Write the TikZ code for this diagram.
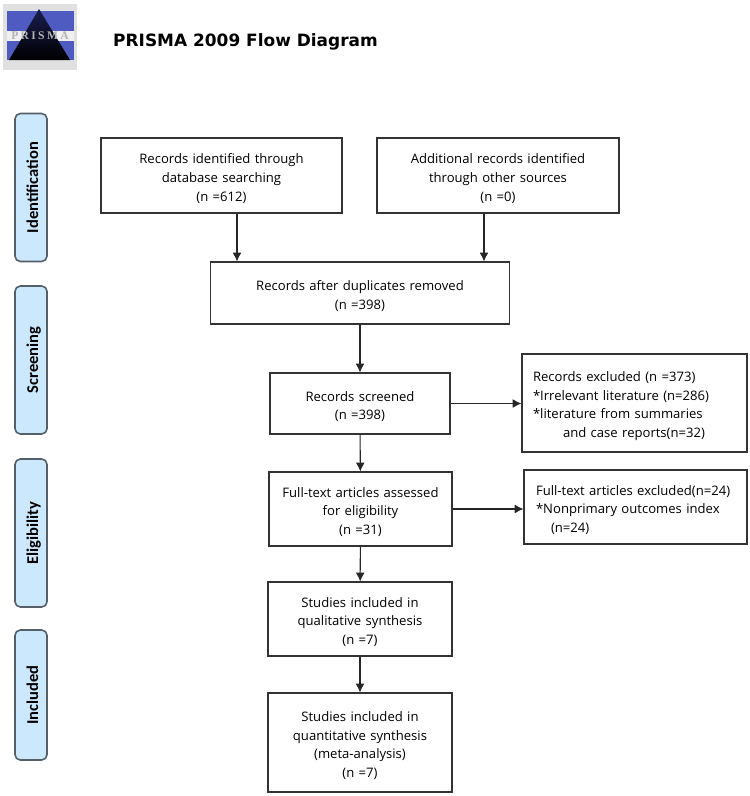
\documentclass[tikz,border=0pt]{standalone}
\usepackage{fontspec}
\setmainfont{Open Sans}
\newfontfamily\sidefont{Carlito}
\newfontfamily\titlefont{DejaVu Sans}
\newfontfamily\logofont[LetterSpace=20]{Liberation Serif}
\usetikzlibrary{arrows.meta}
\definecolor{sidefill}{HTML}{CBE8FD}
\definecolor{sideline}{HTML}{555F68}
\definecolor{logoblue}{HTML}{4F5BC0}
\definecolor{logonavy}{HTML}{1A1E50}
\tikzset{
	flowbox/.style={draw=black!80, line width=0.6pt, text width=4.3cm, align=center, inner sep=0pt, font=\fontsize{7.45}{10.6}\selectfont, execute at begin node={\rule{0pt}{9pt}}},
	sidebox/.style={draw=sideline, fill=sidefill, line width=0.9pt, rounded corners=3pt, rotate=90, minimum height=0.64cm, inner sep=0pt, text height=8pt, text depth=0pt, font=\fontsize{9.4}{11}\sidefont\bfseries},
	flow/.style={-{Latex[length=5pt,width=5pt]}, line width=0.6pt, black!85}
}

\begin{document}
\begin{tikzpicture}[x=0.02cm, y=-0.02cm]
	%%%%% PAGE %%%%%
	\useasboundingbox (0, 0) rectangle (750, 796);
	
	%%%%% LOGO %%%%%
	\fill[black!12] (3, 4) rectangle (77, 70);
	\fill[logoblue] (7, 11) rectangle (74, 31);
	\fill[logoblue] (7, 41) rectangle (74, 60);
	\fill[black!6] (7, 31) rectangle (74, 41);
	\shade[top color=logonavy, bottom color=black] (39, 9) -- (9, 60) -- (70, 60) -- cycle;
	\node[text=black!30, font=\fontsize{6.6}{7}\logofont\bfseries] (logotext) at (40, 36) {PRISMA};
	
	\node[font=\fontsize{9.65}{11}\titlefont\bfseries] (title) at (245.5, 41.5) {PRISMA 2009 Flow Diagram};
	
	%%%%% SIDE BARS %%%%%
	\node[sidebox, minimum width=2.96cm] (identification) at (31, 187.5) {Identification};
	\node[sidebox, minimum width=2.96cm] (screening) at (31, 360) {Screening};
	\node[sidebox, minimum width=2.96cm] (eligibility) at (31, 533) {Eligibility};
	\node[sidebox, minimum width=2.6cm] (included) at (31, 695) {Included};
	
	%%%%% BOXES %%%%%
	\node[flowbox, minimum width=4.82cm, minimum height=1.5cm] (database) at (221.5, 175.5) {Records identified through\\database searching\\(n =612)};
	\node[flowbox, minimum width=4.84cm, minimum height=1.5cm] (other) at (498, 175.5) {Additional records identified\\through other sources\\(n =0)};
	\node[flowbox, minimum width=6cm, minimum height=1.24cm] (duplicates) at (360, 293) {Records after duplicates removed\\(n =398)};
	\node[flowbox, minimum width=3.6cm, minimum height=1.22cm, text width=3.4cm] (screened) at (360, 403.5) {Records screened\\(n =398)};
	\node[flowbox, minimum width=4.5cm, minimum height=1.96cm, text width=4.06cm, align=left] (excludedone) at (634.5, 403) {Records excluded (n =373)\\{}*Irrelevant literature (n=286)\\{}*literature from summaries\\\hspace*{0.6cm}and case reports(n=32)};
	\node[flowbox, minimum width=3.66cm, minimum height=1.48cm, text width=3.4cm] (fulltext) at (360.5, 509) {Full-text articles assessed\\for eligibility\\(n =31)};
	\node[flowbox, minimum width=4.46cm, minimum height=1.48cm, text width=3.98cm, align=left] (excludedtwo) at (635.5, 507) {Full-text articles excluded(n=24)\\{}*Nonprimary outcomes index\\\hspace*{0.3cm}(n=24)};
	\node[flowbox, minimum width=3.68cm, minimum height=1.48cm, text width=3.4cm] (qualitative) at (360, 619) {Studies included in\\qualitative synthesis\\(n =7)};
	\node[flowbox, minimum width=3.68cm, minimum height=1.98cm, text width=3.4cm] (quantitative) at (360, 742.5) {Studies included in\\quantitative synthesis\\(meta-analysis)\\(n =7)};
	
	%%%%% ARROWS %%%%%
	\draw[flow] ([xshift=0.31cm]database.south) -- ([xshift=0.31cm]database.south |- duplicates.north);
	\draw[flow] ([xshift=-0.28cm]other.south) -- ([xshift=-0.28cm]other.south |- duplicates.north);
	\draw[flow] (duplicates) -- (screened);
	\draw[flow] (screened) -- (fulltext);
	\draw[flow] (fulltext) -- (qualitative);
	\draw[flow] (qualitative) -- (quantitative);
	\draw[flow] (screened.east) -- (screened.east -| excludedone.west);
	\draw[flow] (fulltext.east) -- (fulltext.east -| excludedtwo.west);
\end{tikzpicture}
\end{document}
